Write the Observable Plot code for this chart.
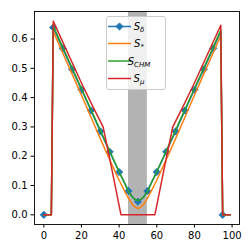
<!DOCTYPE html>
<html><head><meta charset="utf-8">
<script src="https://cdn.jsdelivr.net/npm/d3@7"></script>
<script src="https://cdn.jsdelivr.net/npm/@observablehq/plot@0.6"></script>
<style>
body{margin:0;background:#fff;}
#chart{position:relative;width:252px;height:252px;}
</style></head><body><div id="chart"></div>
<script>
// shared x grid for S_delta, S_*, S_CHM
const xGrid  = [0, 4, 5, 10, 15, 20, 25, 30, 35, 40, 43, 45, 47, 48, 50, 52, 53, 55, 57, 60, 65, 70, 75, 80, 85, 90, 94, 95, 99];
const sDelta = [0, 0, 0.639, 0.568, 0.497, 0.427, 0.356, 0.285, 0.215, 0.146, 0.108, 0.081, 0.062, 0.054, 0.045, 0.054, 0.062, 0.081, 0.108, 0.146, 0.215, 0.285, 0.356, 0.427, 0.497, 0.568, 0.625, 0, 0];
const sStar  = [0, 0, 0.626, 0.553, 0.481, 0.408, 0.334, 0.260, 0.188, 0.118, 0.080, 0.056, 0.036, 0.029, 0.021, 0.029, 0.036, 0.056, 0.080, 0.118, 0.188, 0.260, 0.334, 0.408, 0.481, 0.553, 0.611, 0, 0];
const sCHM   = [0, 0, 0.645, 0.573, 0.502, 0.431, 0.360, 0.289, 0.218, 0.148, 0.106, 0.079, 0.061, 0.055, 0.048, 0.055, 0.061, 0.079, 0.106, 0.148, 0.218, 0.289, 0.360, 0.431, 0.502, 0.573, 0.631, 0, 0];
// S_mu has its own x grid
const xRed   = [0, 4, 5, 20, 26, 31.5, 36, 41, 59, 64, 68.5, 74, 80, 94, 95, 99];
const sMu    = [0, 0, 0.661, 0.450, 0.370, 0.300, 0.160, 0, 0, 0.160, 0.300, 0.370, 0.450, 0.647, 0, 0];
const markerStep = 5;
const band = [45, 55];
const xTicks = [0, 20, 40, 60, 80, 100];
const yTicks = [0, 0.1, 0.2, 0.3, 0.4, 0.5, 0.6];
const names = [["S", "δ", true], ["S", "*", false], ["S", "CHM", true], ["S", "μ", true]];
const colors = ["#1f77b4", "#ff7f0e", "#2ca02c", "#d62728"];

const rows = (xs, ys) => xs.map((x, i) => ({x, y: ys[i]}));
const blue = rows(xGrid, sDelta);
const markers = blue.filter(d => d.x % markerStep === 0);

const lineOpts = c => ({x: "x", y: "y", stroke: c, strokeWidth: 1.5, strokeLinejoin: "round", strokeLinecap: "square"});

const plot = Plot.plot({
  width: 252, height: 252,
  marginLeft: 34, marginRight: 13, marginTop: 11, marginBottom: 28,
  style: {fontFamily: "DejaVu Sans", fontSize: "10px", color: "black", background: "white"},
  x: {domain: [-4.95, 103.95], ticks: xTicks, tickSize: 3.5, tickPadding: 3.5, label: null, tickFormat: "d"},
  y: {domain: [-0.033, 0.694], ticks: yTicks, tickSize: 3.5, tickPadding: 3.5, label: null, tickFormat: ".1f"},
  marks: [
    Plot.rect([{x1: band[0], x2: band[1]}], {x1: "x1", x2: "x2", fill: "#b3b3b3"}),
    Plot.line(blue, lineOpts(colors[0])),
    Plot.dot(markers, {x: "x", y: "y", symbol: "diamond2", r: 3.2, fill: colors[0], stroke: colors[0], strokeWidth: 1}),
    Plot.line(rows(xGrid, sStar), lineOpts(colors[1])),
    Plot.line(rows(xGrid, sCHM), lineOpts(colors[2])),
    Plot.line(rows(xRed, sMu), lineOpts(colors[3])),
    Plot.frame({stroke: "black", strokeWidth: 0.9})
  ]
});
document.getElementById("chart").appendChild(plot);

// legend
const svg = d3.select(plot);
const lg = svg.append("g");
lg.append("rect").attr("x", 106.5).attr("y", 16.5).attr("width", 59).attr("height", 73).attr("rx", 2.5)
  .attr("fill", "white").attr("fill-opacity", 0.8).attr("stroke", "#cccccc").attr("stroke-width", 1);
const rowY = [26.5, 43.5, 61, 78.5];
names.forEach((n, i) => {
  const y = rowY[i];
  lg.append("line").attr("x1", 108).attr("x2", 131).attr("y1", y).attr("y2", y)
    .attr("stroke", colors[i]).attr("stroke-width", 1.5);
  if (i === 0) {
    lg.append("path").attr("d", d3.symbol(d3.symbolDiamond2, Math.PI * 3.2 * 3.2)())
      .attr("transform", `translate(119.5,${y})`).attr("fill", colors[0]).attr("stroke", colors[0]);
  }
  const t = lg.append("text").attr("x", 139).attr("y", y + 3.5)
    .attr("font-family", "DejaVu Sans").attr("font-size", 10).attr("fill", "black");
  t.append("tspan").attr("font-style", "italic").text(n[0]);
  t.append("tspan").attr("font-size", 7).attr("dy", 2.2).attr("font-style", n[2] ? "italic" : "normal").text(n[1]);
});
</script>
</body></html>
